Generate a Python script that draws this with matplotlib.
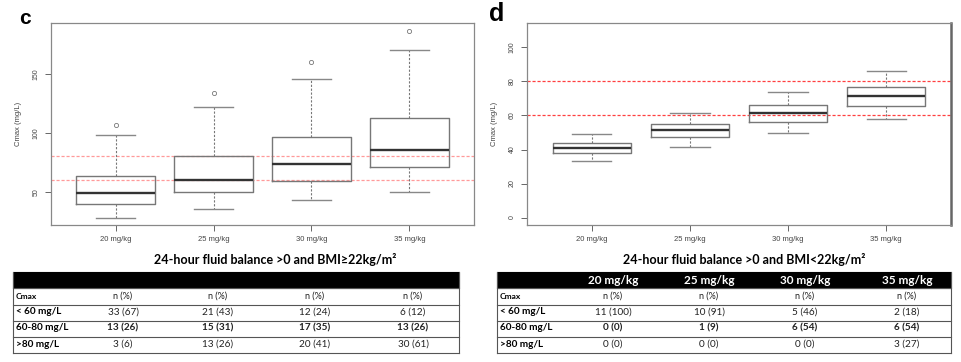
import matplotlib
matplotlib.use('Agg')
import matplotlib.pyplot as plt
from matplotlib.patches import Rectangle

# dose groups
doses = ['20 mg/kg', '25 mg/kg', '30 mg/kg', '35 mg/kg']

# panel c: BMI >= 22  (box stats)
c_low = [28.3, 35.6, 43.2, 50.3]
c_q1 = [40.1, 50.0, 59.6, 70.8]
c_med = [49.2, 60.4, 73.9, 85.8]
c_q3 = [63.8, 80.4, 96.8, 112.3]
c_high = [97.9, 121.5, 145.8, 170.3]
c_out = [[106.9], [133.4], [160.4], [186.6]]

# panel d: BMI < 22
d_low = [33.1, 41.3, 49.8, 57.9]
d_q1 = [37.8, 47.2, 56.3, 65.5]
d_med = [40.9, 51.2, 61.4, 71.5]
d_q3 = [44.1, 54.9, 65.9, 77.0]
d_high = [49.2, 61.6, 73.8, 86.0]
d_out = [[], [], [], []]

limits = [60, 80]

# tables
row_labels = ['Cmax', '< 60 mg/L', '60-80 mg/L', '>80 mg/L']
c_table = [['n (%)'] * 4,
           ['33 (67)', '21 (43)', '12 (24)', '6 (12)'],
           ['13 (26)', '15 (31)', '17 (35)', '13 (26)'],
           ['3 (6)', '13 (26)', '20 (41)', '30 (61)']]
d_table = [['n (%)'] * 4,
           ['11 (100)', '10 (91)', '5 (46)', '2 (18)'],
           ['0 (0)', '1 (9)', '6 (54)', '6 (54)'],
           ['0 (0)', '0 (0)', '0 (0)', '3 (27)']]
c_title = '24-hour fluid balance >0 and BMI\u226522kg/m\u00b2'
d_title = '24-hour fluid balance >0 and BMI<22kg/m\u00b2'

W, H = 961, 362
fig = plt.figure(figsize=(W / 100, H / 100), dpi=100)

tfont = ['Lato', 'DejaVu Sans']
afont = ['Liberation Sans', 'DejaVu Sans']


def box_panel(rect, low, q1, med, q3, high, out, ylim, yticks, red, right_dark=False):
    ax = fig.add_axes(rect)
    stats = []
    for i in range(4):
        stats.append(dict(whislo=low[i], q1=q1[i], med=med[i], q3=q3[i],
                          whishi=high[i], fliers=out[i]))
    ax.bxp(stats, positions=[1, 2, 3, 4], widths=0.8, showfliers=True,
           boxprops=dict(color='#777777', lw=1.0),
           medianprops=dict(color='#333333', lw=1.7),
           whiskerprops=dict(color='#777777', lw=0.8, linestyle=(0, (2, 1.5))),
           capprops=dict(color='#888888', lw=1.0),
           flierprops=dict(marker='o', markersize=3, markerfacecolor='none',
                           markeredgecolor='#777777', markeredgewidth=0.6),
           capwidths=0.4)
    for v in limits:
        ax.axhline(v, color=red, lw=0.9, linestyle=(0, (2.5, 1.5)), zorder=0)
    ax.set_xlim(0.34, 4.66)
    ax.set_ylim(*ylim)
    ax.set_xticks([1, 2, 3, 4])
    ax.set_xticklabels(doses, fontsize=5.5, color='#444444', family=afont)
    ax.set_yticks(yticks)
    ax.set_yticklabels([str(t) for t in yticks], fontsize=5, color='#444444',
                       family=afont, rotation=90, va='center')
    ax.tick_params(length=4, width=0.7, color='#666666', pad=4)
    for s in ax.spines.values():
        s.set_color('#888888')
        s.set_linewidth(0.9)
    if right_dark:
        ax.spines['right'].set_color('#666666')
        ax.spines['right'].set_linewidth(1.8)
    ax.set_ylabel('Cmax (mg/L)', fontsize=5.5, color='#444444', family=afont, labelpad=8)
    return ax


ax_c = box_panel([51 / W, 1 - 225 / H, 423 / W, 202 / H], c_low, c_q1, c_med, c_q3,
                 c_high, c_out, (22, 193), [50, 100, 150], '#ff9a9a')
ax_d = box_panel([527 / W, 1 - 225 / H, 424 / W, 202 / H], d_low, d_q1, d_med, d_q3,
                 d_high, d_out, (-4.4, 114.4), [0, 20, 40, 60, 80, 100], '#ff4040',
                 right_dark=True)

# overlay in pixel coords for labels and tables
ov = fig.add_axes([0, 0, 1, 1], zorder=-1)
ov.set_xlim(0, W)
ov.set_ylim(H, 0)
ov.axis('off')

ov.text(25, 18, 'c', fontsize=15, fontweight='bold', family=afont, ha='center', va='center')
ov.text(497, 14, 'd', fontsize=18, fontweight='bold', family=afont, ha='center', va='center')

row_edges = [272, 288, 304.5, 320.5, 336.5, 353]
row_y = [296.5, 312, 328, 344.5]


def draw_table(x0, x1, colx, header, cells, title, title_x):
    ov.text(title_x, 259, title, fontsize=9, fontweight='bold', family=tfont,
            ha='center', va='center')
    ov.add_patch(Rectangle((x0, row_edges[0]), x1 - x0, row_edges[1] - row_edges[0],
                           facecolor='black', edgecolor='black', lw=0.8))
    if header:
        for x, h in zip(colx, header):
            ov.text(x, 281, h, fontsize=8.5, fontweight='bold', color='white',
                    family=tfont, ha='center', va='center')
    for y in row_edges[1:]:
        ov.plot([x0, x1], [y, y], color='#555555', lw=0.8)
    ov.plot([x0, x0], [row_edges[0], row_edges[-1]], color='#555555', lw=0.8)
    ov.plot([x1, x1], [row_edges[0], row_edges[-1]], color='#555555', lw=0.8)
    for r, lab in enumerate(row_labels):
        ov.text(x0 + 3, row_y[r], lab, fontsize=6 if r == 0 else 7.2, fontweight='bold',
                family=tfont, ha='left', va='center')
        for x, val in zip(colx, cells[r]):
            ov.text(x, row_y[r], val, fontsize=6.5 if r == 0 else 7.2,
                    fontweight='bold' if r == 2 else 'normal',
                    color='#222222', family=tfont, ha='center', va='center')


draw_table(13, 459, [123, 218, 315, 413], None, c_table, c_title, 275)
draw_table(497, 951, [613, 709, 805, 907], doses, d_table, d_title, 744)

fig.savefig('out.png', dpi=100)
